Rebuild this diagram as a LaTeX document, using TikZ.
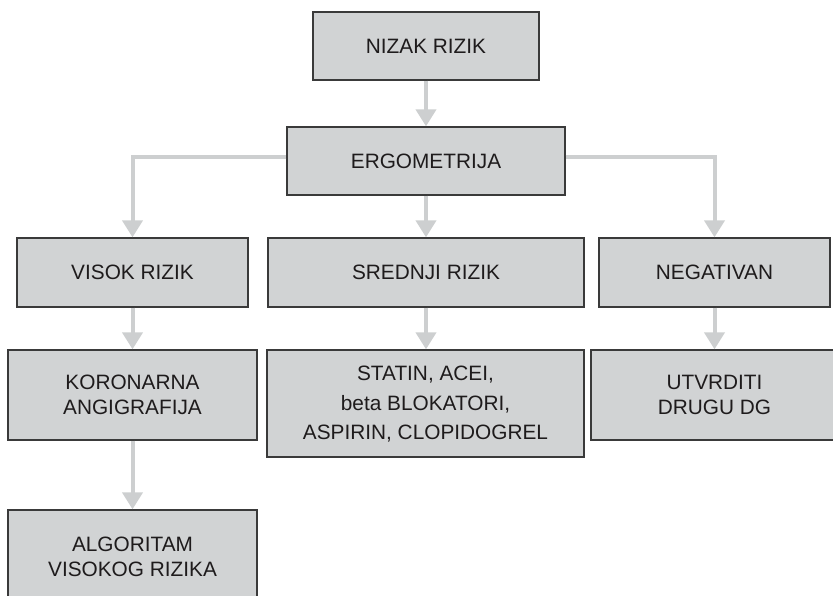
\documentclass[tikz,border=0pt]{standalone}
\usepackage{fontspec}
\setmainfont{Liberation Sans}
\usetikzlibrary{arrows.meta}
\definecolor{boxfill}{HTML}{D1D3D4}
\definecolor{boxline}{HTML}{3A3A3A}
\definecolor{flow}{HTML}{CDCFD0}
\definecolor{ink}{HTML}{1E1B1C}
\begin{document}
\begin{tikzpicture}[x=1pt,y=-1pt,
  box/.style={draw=boxline, line width=1.3pt, fill=boxfill, inner sep=0pt, anchor=center},
  lbl/.style={font=\fontsize{20.8}{25.5}\selectfont, align=center, text=ink, inner sep=0pt},
  flowarrow/.style={draw=flow, line width=4pt, -{Triangle[width=20pt,length=17pt]}}]
\useasboundingbox (0,0) rectangle (833,596);
\clip (0,0) rectangle (833,596);

% boxes
\node[box, minimum width=226pt, minimum height=68pt] (nizak) at (426,46) {};
\node[box, minimum width=278pt, minimum height=68pt] (ergo) at (426,161) {};
\node[box, minimum width=231pt, minimum height=69pt] (visok) at (132.5,272.5) {};
\node[box, minimum width=316pt, minimum height=69pt] (sred) at (426,272.5) {};
\node[box, minimum width=231pt, minimum height=69pt] (neg) at (714.5,272.5) {};
\node[box, minimum width=249pt, minimum height=90pt] (kor) at (132.5,395) {};
\node[box, minimum width=317pt, minimum height=107pt] (stat) at (425.5,403.5) {};
\node[box, minimum width=247pt, minimum height=90pt] (utv) at (714.5,395) {};
\node[box, minimum width=249pt, minimum height=94pt] (alg) at (132.5,557) {};

% labels
\node[lbl] at (nizak) {NIZAK RIZIK};
\node[lbl] at (ergo) {ERGOMETRIJA};
\node[lbl] at (visok) {VISOK RIZIK};
\node[lbl] at (sred) {SREDNJI RIZIK};
\node[lbl] at (neg) {NEGATIVAN};
\node[lbl] at (kor) {KORONARNA\\ANGIGRAFIJA};
\node[lbl, font=\fontsize{20.8}{29.5}\selectfont, yshift=-1pt] at (stat) {STATIN, ACEI,\\beta BLOKATORI,\\ASPIRIN, CLOPIDOGREL};
\node[lbl] at (utv) {UTVRDITI\\DRUGU DG};
\node[lbl] at (alg) {ALGORITAM\\VISOKOG RIZIKA};

% connectors
\draw[flowarrow] (nizak.south) -- (ergo.north);
\draw[flowarrow] ([yshift=4pt]ergo.west) -| (visok.north);
\draw[flowarrow] ([yshift=4pt]ergo.east) -| (neg.north);
\draw[flowarrow] (ergo.south) -- (sred.north);
\draw[flowarrow] (visok.south) -- (kor.north);
\draw[flowarrow] (kor.south) -- (alg.north);
\draw[flowarrow] (sred.south) -- (sred.south |- stat.north);
\draw[flowarrow] (neg.south) -- (utv.north);
\end{tikzpicture}
\end{document}
